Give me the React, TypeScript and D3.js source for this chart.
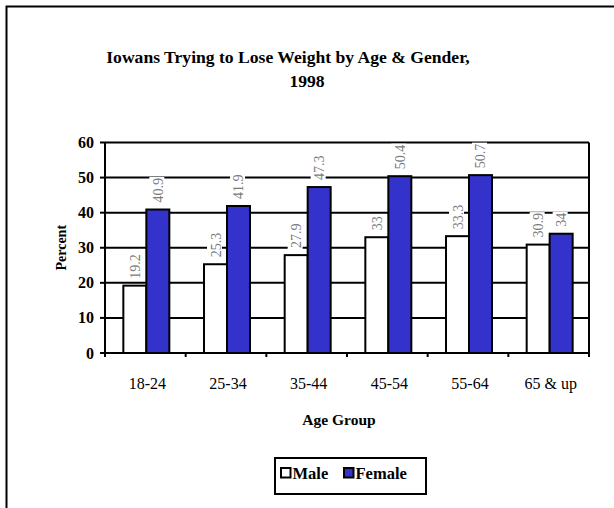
import React from "react";
import * as d3 from "d3";

const categories = ["18-24", "25-34", "35-44", "45-54", "55-64", "65 & up"];
const seriesNames = ["Male", "Female"];
const maleValues = [19.2, 25.3, 27.9, 33, 33.3, 30.9];
const femaleValues = [40.9, 41.9, 47.3, 50.4, 50.7, 34];
const yTicks = [0, 10, 20, 30, 40, 50, 60];
const colors = ["#ffffff", "#3333cc"];

const W = 614;
const H = 508;
const plot = { left: 105, right: 589, top: 142.5, bottom: 353 };
const FONT = "'Liberation Serif', 'Times New Roman', serif";

export default function App() {
  const x = d3.scaleBand<string>().domain(categories).range([plot.left, plot.right]).paddingInner(0).paddingOuter(0);
  const y = d3.scaleLinear().domain([0, 60]).range([plot.bottom, plot.top]);
  const bw = x.bandwidth();
  const barW = bw * 0.285;
  const series = [maleValues, femaleValues];
  const fmt = (v: number) => String(v);
  const lblSize = 14;

  return (
    <svg width={W} height={H} style={{ position: "absolute", left: 0, top: 0, background: "#fff" }} fontFamily={FONT}>
      <rect x={0} y={0} width={W} height={H} fill="#fff" />
      {/* outer frame */}
      <path d={`M6.5,${H} L6.5,6.5 L${W},6.5`} fill="none" stroke="#000" strokeWidth={2} />
      {/* title */}
      <text x={288} y={63} textAnchor="middle" fontSize={17.6} fontWeight="bold">Iowans Trying to Lose Weight by Age &amp; Gender,</text>
      <text x={307} y={87} textAnchor="middle" fontSize={17.6} fontWeight="bold">1998</text>
      {/* gridlines */}
      {yTicks.map((t) => (
        <line key={"g" + t} x1={plot.left} x2={plot.right} y1={y(t)} y2={y(t)} stroke="#000" strokeWidth={2} />
      ))}
      {/* y tick marks */}
      {yTicks.map((t) => (
        <line key={"yt" + t} x1={plot.left - 5} x2={plot.left} y1={y(t)} y2={y(t)} stroke="#000" strokeWidth={2} />
      ))}
      {/* y labels */}
      {yTicks.map((t) => (
        <text key={"yl" + t} x={94} y={y(t) + 5.5} textAnchor="end" fontSize={16} fontWeight="bold">{t}</text>
      ))}
      {/* bars */}
      {categories.map((c, i) => {
        const cx = (x(c) as number) + bw / 2 + 1;
        return series.map((vals, s) => {
          const bx = s === 0 ? cx - barW : cx;
          return (
            <rect key={c + s} x={bx} y={y(vals[i])} width={barW} height={plot.bottom - y(vals[i])} fill={colors[s]} stroke="#000" strokeWidth={2} />
          );
        });
      })}
      {/* value labels */}
      {categories.map((c, i) => {
        const cx = (x(c) as number) + bw / 2 + 1;
        return series.map((vals, s) => {
          const lx = s === 0 ? cx - barW / 2 : cx + barW / 2;
          const ly = y(vals[i]) - 7;
          const label = fmt(vals[i]);
          const tw = label.replace(".", "").length * lblSize * 0.5 + (label.includes(".") ? lblSize * 0.25 : 0);
          return (
            <g key={"l" + c + s} transform={`translate(${lx},${ly}) rotate(-90)`}>
              <rect x={-1} y={-8.5} width={tw + 2} height={15} fill="#fff" />
              <text x={0} y={5} fontSize={lblSize} fill="#7a7a7a">{label}</text>
            </g>
          );
        });
      })}
      {/* plot frame */}
      <line x1={plot.left} x2={plot.left} y1={plot.top} y2={plot.bottom} stroke="#000" strokeWidth={2} />
      <line x1={plot.right} x2={plot.right} y1={plot.top} y2={plot.bottom + 4} stroke="#000" strokeWidth={2} />
      <line x1={plot.left - 5} x2={plot.right} y1={plot.bottom} y2={plot.bottom} stroke="#000" strokeWidth={2} />
      {/* x ticks */}
      {categories.concat(["end"]).map((c, i) => {
        const tx = plot.left + i * bw;
        return <line key={"xt" + i} x1={tx} x2={tx} y1={plot.bottom} y2={plot.bottom + 4} stroke="#000" strokeWidth={2} />;
      })}
      {/* x labels */}
      {categories.map((c) => (
        <text key={"xl" + c} x={(x(c) as number) + bw / 2 + 2} y={389} textAnchor="middle" fontSize={16}>{c}</text>
      ))}
      {/* axis titles */}
      <text x={339} y={425} textAnchor="middle" fontSize={15.5} fontWeight="bold">Age Group</text>
      <text transform={`translate(66,${(plot.top + plot.bottom) / 2}) rotate(-90)`} textAnchor="middle" fontSize={14} fontWeight="bold">Percent</text>
      {/* legend */}
      <rect x={275} y={458} width={151} height={36} fill="#fff" stroke="#000" strokeWidth={2} />
      {seriesNames.map((n, s) => {
        const lx = s === 0 ? 281 : 344;
        return (
          <g key={"lg" + n}>
            <rect x={lx} y={468} width={9.5} height={9.5} fill={colors[s]} stroke="#000" strokeWidth={2} />
            <text x={lx + 11.5} y={479} fontSize={16.5} fontWeight="bold">{n}</text>
          </g>
        );
      })}
    </svg>
  );
}
